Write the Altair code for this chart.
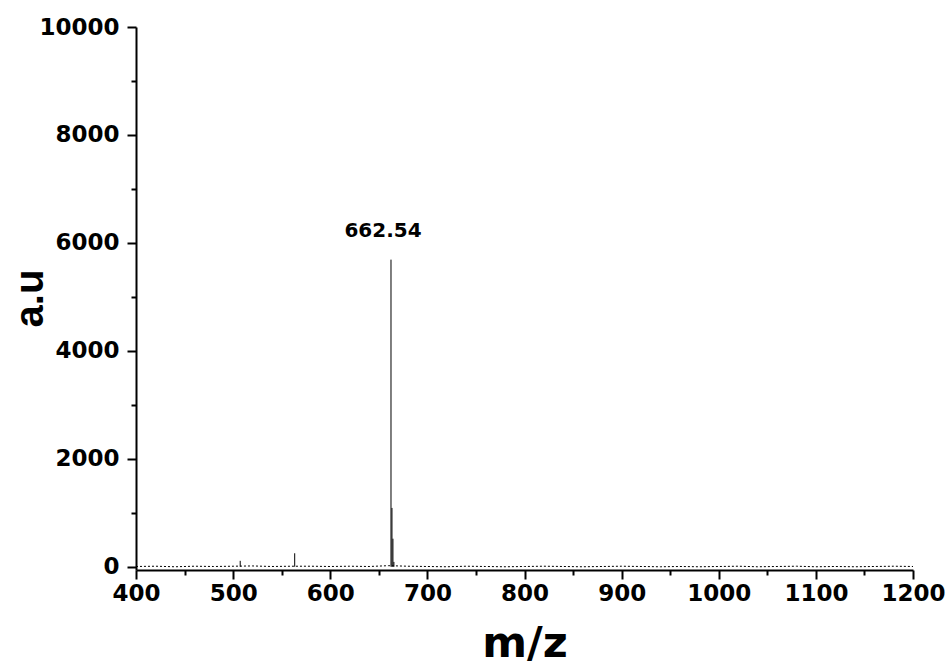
import altair as alt
import pandas as pd

# Peaks (m/z, intensity)
peak_mz = [507.3, 563.4, 662.54, 663.54, 664.54, 665.54]
peak_int = [110, 250, 5690, 1090, 520, 90]

# Baseline noise (m/z, intensity)
base_mz = [400, 420, 440, 460, 480, 500, 520, 540, 560, 580, 600, 620, 640, 660,
           680, 700, 720, 740, 760, 780, 800, 820, 840, 860, 880, 900, 920, 940,
           960, 980, 1000, 1020, 1040, 1060, 1080, 1100, 1120, 1140, 1160, 1180, 1200]
base_int = [5, 10, 0, 10, 5, 10, 15, 5, 10, 10, 5, 10, 5, 20,
            10, 5, 0, 10, 5, 0, 5, 10, 5, 0, 5, 10, 5, 0,
            5, 0, 5, 10, 0, 5, 10, 0, 5, 0, 5, 10, 5]

label_mz = [662.54]
label_int = [5690]
label_text = ["662.54"]

x_major = [400, 500, 600, 700, 800, 900, 1000, 1100, 1200]
x_minor = [450, 550, 650, 750, 850, 950, 1050, 1150]
y_major = [0, 2000, 4000, 6000, 8000, 10000]
y_minor = [1000, 3000, 5000, 7000, 9000]

peaks = pd.DataFrame({"mz": peak_mz, "intensity": peak_int, "zero": [0] * len(peak_mz)})
base = pd.DataFrame({"mz": base_mz, "intensity": base_int})
labels = pd.DataFrame({"mz": label_mz, "intensity": label_int, "label": label_text})

xs = alt.Scale(domain=[400, 1200], nice=False, zero=False)
ys = alt.Scale(domain=[-60, 10000], nice=False, zero=False)

TICKFONT = "DejaVu Sans"

x_axis = alt.Axis(values=x_major, format="d", orient="bottom", title="m/z", grid=False,
                  tickSize=9, tickWidth=2, tickColor="black",
                  domainColor="black", domainWidth=2,
                  labelFont=TICKFONT, labelFontSize=23, labelFontWeight="bold",
                  labelColor="black", labelPadding=3, labelFlush=False,
                  titleFont=TICKFONT, titleFontSize=43, titleFontWeight="bold",
                  titleColor="black", titleY=86, titleBaseline="alphabetic")
y_axis = alt.Axis(values=y_major, format="d", orient="left", title="a.u", grid=False,
                  tickSize=9, tickWidth=2, tickColor="black",
                  domainColor="black", domainWidth=2,
                  labelFont=TICKFONT, labelFontSize=23, labelFontWeight="bold",
                  labelColor="black", labelPadding=8, labelFlush=False,
                  titleFont="Liberation Sans", titleFontSize=40, titleFontWeight="bold",
                  titleColor="black", titleX=-94, titleY=271, titleAngle=-90,
                  titleBaseline="alphabetic", titleAlign="center")

x_minor_axis = alt.Axis(values=x_minor, orient="bottom", title=None, labels=False,
                        domain=False, grid=False, tickSize=5, tickWidth=2, tickColor="black")
y_minor_axis = alt.Axis(values=y_minor, orient="left", title=None, labels=False,
                        domain=False, grid=False, tickSize=5, tickWidth=2, tickColor="black")

rules = alt.Chart(peaks).mark_rule(color="black", strokeWidth=1).encode(
    x=alt.X("mz:Q", scale=xs, axis=x_axis),
    y=alt.Y("intensity:Q", scale=ys, axis=y_axis),
    y2="zero:Q",
)

baseline = alt.Chart(base).mark_line(color="black", strokeWidth=1, strokeDash=[2, 2]).encode(
    x=alt.X("mz:Q", scale=xs, axis=None),
    y=alt.Y("intensity:Q", scale=ys, axis=None),
)

text = alt.Chart(labels).mark_text(
    font=TICKFONT, fontSize=20, fontWeight="bold", color="black",
    align="center", baseline="alphabetic", dx=-8, dy=-23,
).encode(
    x=alt.X("mz:Q", scale=xs, axis=None),
    y=alt.Y("intensity:Q", scale=ys, axis=None),
    text="label:N",
)

minor = alt.Chart(peaks).mark_point(opacity=0).encode(
    x=alt.X("mz:Q", scale=xs, axis=x_minor_axis),
    y=alt.Y("intensity:Q", scale=ys, axis=y_minor_axis),
)

chart = alt.layer(baseline, rules, text, minor).resolve_axis(
    x="independent", y="independent"
).properties(
    width=777, height=543,
    autosize=alt.AutoSizeParams(type="none"),
    padding={"left": 136, "top": 27, "right": 36, "bottom": 98},
    background="white",
).configure_view(stroke=None)

chart.save("out.html", embed_options={"renderer": "svg", "actions": False})
